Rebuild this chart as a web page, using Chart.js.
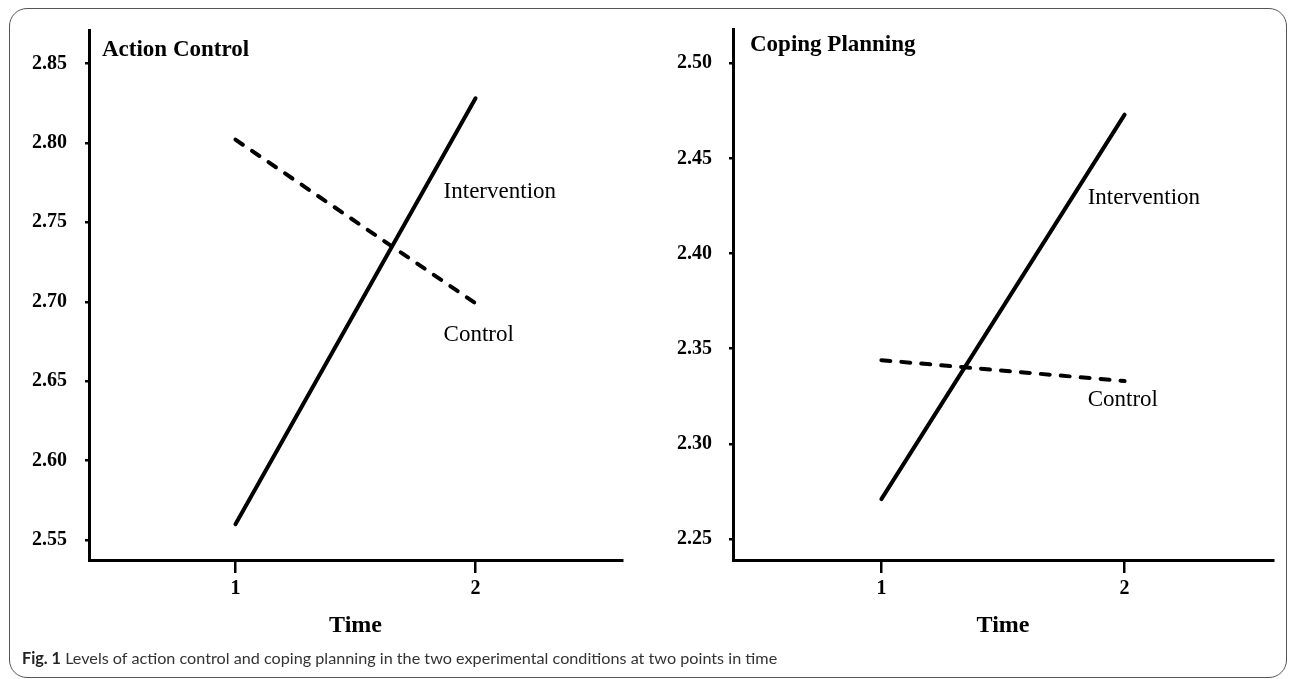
<!DOCTYPE html>
<html>
<head>
<meta charset="utf-8">
<script src="https://cdn.jsdelivr.net/npm/chart.js@4.4.1/dist/chart.umd.min.js"></script>
<style>
  body { margin: 0; background: #fff; width: 1292px; height: 679px; overflow: hidden; position: relative; }
  .frame { position: absolute; left: 9px; top: 8px; width: 1276px; height: 668px; border: 1.5px solid #555; border-radius: 18px; }
  canvas { position: absolute; top: 0; }
  #caption { position: absolute; left: 22px; top: 648px; font-family: Lato, sans-serif; font-size: 16.2px; color: #333; white-space: nowrap; }
  #caption b { color: #222; }
</style>
</head>
<body>
<div class="frame"></div>
<canvas id="actionChart" width="640" height="679" style="left:0"></canvas>
<canvas id="copingChart" width="652" height="679" style="left:640px"></canvas>
<div id="caption"><b>Fig. 1</b> Levels of action control and coping planning in the two experimental conditions at two points in time</div>

<script>
// values
const timePoints = [1, 2];
const timeTicks = [1, 2];

const actionIntervention = [2.56, 2.828];
const actionControl = [2.802, 2.699];
const actionTicks = [2.55, 2.60, 2.65, 2.70, 2.75, 2.80, 2.85];

const copingIntervention = [2.271, 2.473];
const copingControl = [2.344, 2.333];
const copingTicks = [2.25, 2.30, 2.35, 2.40, 2.45, 2.50];

const serif = '"Liberation Serif", "Times New Roman", serif';

// titles + line labels
const panelText = {
  id: 'panelText',
  afterDraw(chart, args, opts) {
    const { ctx, chartArea, scales } = chart;
    ctx.save();
    ctx.fillStyle = '#000';
    ctx.textBaseline = 'middle';
    ctx.textAlign = 'left';
    ctx.font = 'bold 23px ' + serif;
    ctx.fillText(opts.title, chartArea.left + opts.titleDx, opts.titleY);
    ctx.font = '23px ' + serif;
    opts.labels.forEach(l => {
      ctx.fillText(l.text, scales.x.getPixelForValue(l.x), scales.y.getPixelForValue(l.y));
    });
    ctx.restore();
  }
};

function toPoints(vals) {
  return timePoints.map((t, i) => ({ x: t, y: vals[i] }));
}

function makePanel(id, cfg) {
  new Chart(document.getElementById(id), {
    type: 'line',
    data: {
      datasets: [
        {
          label: 'Intervention',
          data: toPoints(cfg.intervention),
          borderColor: '#000',
          borderWidth: 4,
          borderCapStyle: 'round',
          pointRadius: 0
        },
        {
          label: 'Control',
          data: toPoints(cfg.control),
          borderColor: '#000',
          borderWidth: 4,
          borderCapStyle: 'round',
          borderDash: [9, 11],
          pointRadius: 0
        }
      ]
    },
    options: {
      responsive: false,
      animation: false,
      layout: { padding: { top: 26, right: cfg.padRight, left: 0, bottom: 0 } },
      plugins: {
        legend: { display: false },
        tooltip: { enabled: false },
        panelText: { title: cfg.title, titleDx: cfg.titleDx, titleY: cfg.titleY, labels: cfg.labels }
      },
      scales: {
        x: {
          type: 'linear',
          min: 0.39,
          max: 2.61,
          afterBuildTicks: s => { s.ticks = timeTicks.map(v => ({ value: v })); },
          afterFit: s => { s.height = 119; },
          border: { display: true, color: '#000', width: 3 },
          grid: { drawOnChartArea: false, drawTicks: true, tickLength: 13, color: '#000', lineWidth: 2.5 },
          ticks: { color: '#000', padding: 4, font: { family: serif, weight: 'bold', size: 20 }, callback: v => String(v) },
          title: { display: true, text: 'Time', color: '#000', padding: { top: 4, bottom: 39 }, font: { family: serif, weight: 'bold', size: 24 } }
        },
        y: {
          min: cfg.yMin,
          max: cfg.yMax,
          afterBuildTicks: s => { s.ticks = cfg.ticks.map(v => ({ value: v })); },
          afterFit: s => { s.width = cfg.yWidth; },
          border: { display: true, color: '#000', width: 3 },
          grid: { drawOnChartArea: false, drawTicks: true, tickLength: 4, color: '#000', lineWidth: 2.5 },
          ticks: { color: '#000', padding: cfg.tickPad, font: { family: serif, weight: 'bold', size: 20 }, callback: v => v.toFixed(2) }
        }
      }
    },
    plugins: [panelText]
  });
}

makePanel('actionChart', {
  title: 'Action Control',
  titleDx: 13, titleY: 50,
  intervention: actionIntervention,
  control: actionControl,
  ticks: actionTicks,
  yMin: 2.5375, yMax: 2.871,
  yWidth: 89, padRight: 18, tickPad: 18,
  labels: [
    { text: 'Intervention', x: 1.867, y: 2.769 },
    { text: 'Control', x: 1.867, y: 2.679 }
  ]
});

makePanel('copingChart', {
  title: 'Coping Planning',
  titleDx: 17, titleY: 45,
  intervention: copingIntervention,
  control: copingControl,
  ticks: copingTicks,
  yMin: 2.239, yMax: 2.518,
  yWidth: 93, padRight: 19, tickPad: 17,
  labels: [
    { text: 'Intervention', x: 1.848, y: 2.429 },
    { text: 'Control', x: 1.848, y: 2.323 }
  ]
});
</script>
</body>
</html>
